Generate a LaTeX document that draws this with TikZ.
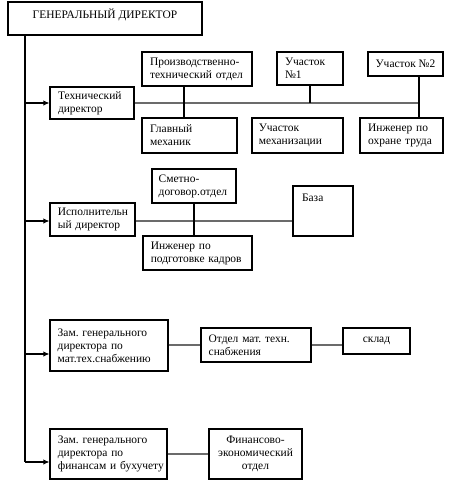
\documentclass[tikz,border=0pt]{standalone}
\usepackage{fontspec}
\setmainfont{Liberation Serif}
\usetikzlibrary{arrows.meta}
\frenchspacing
% \mybox[options]{name}{x1}{y1}{x2}{y2}{text}
\newcommand\mybox[7][]{%
  \node[box,minimum width={(#5-#3)*0.75pt},minimum height={(#6-#4)*0.75pt},#1]
    (#2) at ({(#3+#5)/2},{(#4+#6)/2}) {#7};}
\begin{document}
\begin{tikzpicture}[x=0.75pt,y=-0.75pt,
  box/.style={draw=black,line width=0.8pt,inner sep=0pt,align=left,
    font=\fontsize{8.6}{9.75}\selectfont\frenchspacing},
  lbl/.style={inner sep=0pt,font=\fontsize{8.6}{9.75}\selectfont},
  conn/.style={line width=0.8pt,black},
  hconn/.style={line width=1.4pt,black!58},
  arr/.style={line width=0.8pt,black,-{Latex[length=4.5pt,width=4pt]}}]
\useasboundingbox (0,0) rectangle (455,485);
% boxes
\mybox[label={[lbl,anchor=north,yshift=-5.5pt]north:ГЕНЕРАЛЬНЫЙ ДИРЕКТОР}]{gd}{8}{2}{202}{35}{}
\mybox[text width=51pt]{td}{50}{87}{134}{119}{Технический\\директор}
\mybox[text width=70.5pt]{pto}{142}{52}{252}{86}{Производственно-\\технический отдел}
\mybox[text width=37.5pt]{u1}{277}{52}{343}{85}{Участок\\№1}
\mybox[align=center]{u2}{368}{52}{443}{76}{Участок №2}
\mybox[text width=59pt]{gm}{142}{118}{237}{153}{Главный\\механик}
\mybox[text width=58pt]{um}{252}{118}{343}{153}{Участок\\механизации}
\mybox[text width=50pt]{iot}{360}{118}{443}{153}{Инженер по\\охране труда}
\mybox[text width=52pt]{ed}{50}{203}{135}{236}{Исполнительн\\ый директор}
\mybox[text width=53pt]{sdo}{152}{169}{236}{203}{Сметно-\\договор.отдел}
\mybox[text width=70pt]{ipk}{143}{236}{252}{270}{Инженер по\\подготовке кадров}
\mybox[label={[lbl,anchor=north west,xshift=7pt,yshift=-6.5pt]north west:База}]{baza}{293}{186}{353}{236}{}
\mybox[text width=77pt]{zmt}{50}{320}{168}{371}{Зам. генерального\\директора по\\\mbox{мат.тех.снабжению}}
\mybox[text width=71pt]{omt}{201}{328}{311}{362}{\mbox{Отдел мат. техн.}\\снабжения}
\mybox[align=center]{skl}{343}{328}{410}{354}{склад}
\mybox[text width=76pt]{zf}{50}{429}{167}{479}{Зам. генерального\\директора по\\\mbox{финансам и бухучету}}
\mybox[align=center]{feo}{209}{429}{302}{479}{Финансово-\\экономический\\отдел}
% coordinates
\coordinate (m0) at (25,35);
\coordinate (a2) at (25,221);
\coordinate (a3) at (25,354);
\coordinate (a4) at (25,462);
\coordinate (v1) at (184,0);
\coordinate (v2) at (419,0);
% main vertical and arrows
\draw[conn] (m0) -- (a4);
\draw[arr] (m0 |- td.west) -- (td.west);
\draw[arr] (a2) -- (a2 -| ed.west);
\draw[arr] (a3) -- (a3 -| zmt.west);
\draw[arr] (a4) -- (a4 -| zf.west);
% technical director branch
\draw[hconn] (td.east) -- (td.east -| v2);
\draw[conn] (pto.south -| v1) -- (gm.north -| v1);
\draw[conn] (u1.south) -- (u1.south |- td.east);
\draw[conn] (u2.south -| v2) -- (iot.north -| v2);
% executive director branch
\draw[hconn] (a2 -| ed.east) -- (a2 -| baza.west);
\draw[conn] (sdo.south) -- (sdo.south |- ipk.north);
% supply branch
\draw[hconn] (zmt.east |- omt.west) -- (omt.west);
\draw[hconn] (omt.east) -- (omt.east -| skl.west);
% finance branch
\draw[hconn] (zf.east) -- (feo.west);
\end{tikzpicture}
\end{document}
